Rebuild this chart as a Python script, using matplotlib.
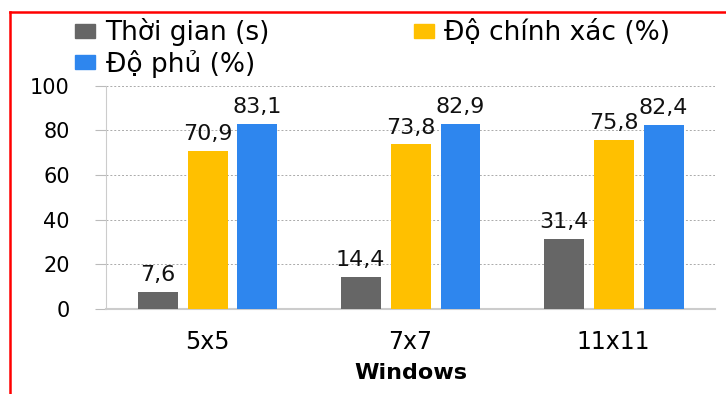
import numpy as np
import matplotlib.pyplot as plt
from matplotlib.lines import Line2D
from matplotlib.patches import Patch

plt.rcParams['font.family'] = ['DejaVu Sans']

windows = ['5x5', '7x7', '11x11']
thoi_gian = [7.6, 14.4, 31.4]
do_chinh_xac = [70.9, 73.8, 75.8]
do_phu = [83.1, 82.9, 82.4]

series = [
    ('Thời gian (s)', thoi_gian, '#666666'),
    ('Độ chính xác (%)', do_chinh_xac, '#ffc000'),
    ('Độ phủ (%)', do_phu, '#2e86ee'),
]

fig = plt.figure(figsize=(7.26, 3.94), dpi=100)
ax = fig.add_axes([0.146, 0.216, 0.839, 0.566])

x = np.arange(len(windows))
width = 0.197
step = 0.246
for i, (name, vals, color) in enumerate(series):
    pos = x + (i - 1) * step
    ax.bar(pos, vals, width, color=color, zorder=3)
    for p, v in zip(pos, vals):
        ax.text(p, v + 3, f'{v:.1f}'.replace('.', ','), ha='center', va='bottom',
                fontsize=16, color='#111111')

ax.set_xlim(-0.5, len(windows) - 0.5)
ax.set_ylim(0, 100)
ax.set_yticks(range(0, 101, 20))
ax.set_xticks(x)
ax.set_xticklabels(windows, fontsize=17)
ax.tick_params(axis='y', labelsize=15, length=8, color='#bbbbbb', pad=18)
ax.tick_params(axis='x', length=0, pad=15)
ax.grid(axis='y', linestyle=(0, (2, 2)), color='#aaaaaa', linewidth=0.7, zorder=0)
for side in ['top', 'right']:
    ax.spines[side].set_visible(False)
ax.spines['left'].set_color('#cccccc')
ax.spines['bottom'].set_color('#cccccc')
ax.spines['bottom'].set_linewidth(1.5)
ax.set_xlabel('Windows', fontsize=16, fontweight='bold', labelpad=7)

# legend: two columns, third entry drops to the second row of the first column
handles = [Patch(color=series[0][2]), Patch(color=series[2][2]), Patch(color=series[1][2])]
labels = [series[0][0], series[2][0], series[1][0]]
fig.legend(handles, labels, ncol=2, loc='upper left', bbox_to_anchor=(0.089, 0.98),
           frameon=False, fontsize=19, handlelength=0.75, handleheight=0.45,
           handletextpad=0.4, columnspacing=5.45, labelspacing=0.12, borderaxespad=0)

# red frame around the slide
fig.add_artist(Line2D([10 / 726, 1], [382 / 394, 382 / 394], color='red', linewidth=1.8))
fig.add_artist(Line2D([10 / 726, 10 / 726], [0, 382 / 394], color='red', linewidth=1.8))

fig.savefig('out.png', dpi=100)
